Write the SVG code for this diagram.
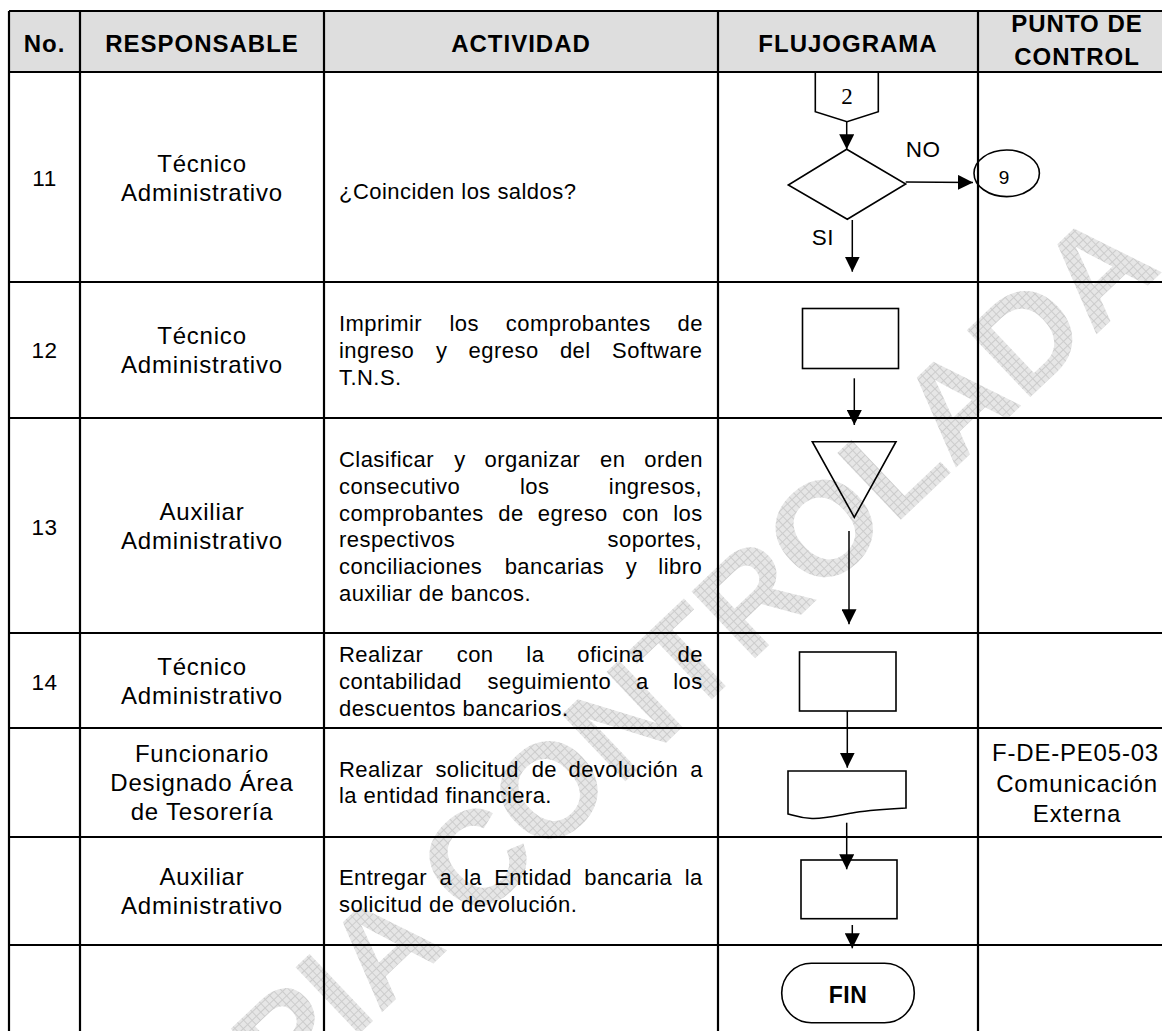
<svg xmlns="http://www.w3.org/2000/svg" width="1162" height="1031" viewBox="0 0 1162 1031">
<defs>
<style>
.grid{stroke:#000;stroke-width:2.2;fill:none}
.shape{fill:none;stroke:#000;stroke-width:1.6}
.conn{stroke:#000;stroke-width:1.5;fill:none;marker-end:url(#arr)}
.h{font-family:"Liberation Sans",Arial,sans-serif;font-weight:bold;font-size:24px;letter-spacing:1px;text-anchor:middle;fill:#000}
.r{font-family:"Liberation Sans",Arial,sans-serif;font-size:24px;letter-spacing:0.8px;text-anchor:middle;fill:#000}
.n{font-family:"Liberation Sans",Arial,sans-serif;font-size:22.5px;letter-spacing:0.5px;text-anchor:middle;fill:#000}
.a{font-family:"Liberation Sans",Arial,sans-serif;font-size:22px;letter-spacing:0.45px;fill:#000}
.lbl{font-family:"Liberation Sans",Arial,sans-serif;font-size:22.5px;letter-spacing:0.6px;fill:#000}
.wm{font-family:"Liberation Sans",Arial,sans-serif;font-weight:bold;font-size:134px;text-anchor:middle;fill:url(#hatch)}
</style>
<pattern id="hatch" width="6" height="6" patternUnits="userSpaceOnUse">
<rect width="6" height="6" fill="#e6e6e6"/>
<path d="M0,0.5H6M0.5,0V6" stroke="#cccccc" stroke-width="1"/>
</pattern>
<marker id="arr" markerUnits="userSpaceOnUse" markerWidth="15" markerHeight="15" refX="15" refY="7.5" orient="auto" viewBox="0 0 15 15">
<path d="M0,0 L15,7.5 L0,15 z" fill="#000"/>
</marker>
</defs>
<rect width="1162" height="1031" fill="#fff"/>
<rect x="9" y="11" width="1165" height="61" fill="#dedede"/>

<g id="watermark" transform="translate(653,755) rotate(-43.5)">
<text class="wm" x="0" y="0">COPIA CONTROLADA</text>
</g>

<g id="table">
<path class="grid" d="M9,11H1175M9,72H1175M9,282H1175M9,418H1175M9,633H1175M9,728H1175M9,837H1175M9,945H1175"/>
<path class="grid" d="M9,11V1040M80,11V1040M324,11V1040M718,11V1040M978,11V1040"/>
</g>

<g id="header">
<text class="h" x="44.5" y="52">No.</text>
<text class="h" x="202" y="52">RESPONSABLE</text>
<text class="h" x="521" y="52">ACTIVIDAD</text>
<text class="h" x="848" y="52">FLUJOGRAMA</text>
<text class="h" x="1077" y="31.7">PUNTO DE</text>
<text class="h" x="1077" y="64.5">CONTROL</text>
</g>

<g id="row11">
<text class="n" x="44.5" y="186">11</text>
<text class="r" x="202" y="172">Técnico</text>
<text class="r" x="202" y="201">Administrativo</text>
<text class="a" x="339" y="199">¿Coinciden los saldos?</text>
</g>

<g id="row12">
<text class="n" x="44.5" y="358">12</text>
<text class="r" x="202" y="344">Técnico</text>
<text class="r" x="202" y="373">Administrativo</text>
<text class="a" y="330.7"><tspan x="339">Imprimir</tspan><tspan x="449.4">los</tspan><tspan x="505.8">comprobantes</tspan><tspan x="677.6">de</tspan></text>
<text class="a" y="357.7"><tspan x="339">ingreso</tspan><tspan x="436">y</tspan><tspan x="468.6">egreso</tspan><tspan x="559.9">del</tspan><tspan x="612.1">Software</tspan></text>
<text class="a" x="339" y="384.7">T.N.S.</text>
</g>

<g id="row13">
<text class="n" x="44.5" y="535">13</text>
<text class="r" x="202" y="520">Auxiliar</text>
<text class="r" x="202" y="549">Administrativo</text>
<text class="a" y="467"><tspan x="339">Clasificar</tspan><tspan x="454.2">y</tspan><tspan x="484.6">organizar</tspan><tspan x="600">en</tspan><tspan x="644.3">orden</tspan></text>
<text class="a" y="494"><tspan x="339">consecutivo</tspan><tspan x="520">los</tspan><tspan x="608.8">ingresos,</tspan></text>
<text class="a" y="520.7"><tspan x="339">comprobantes</tspan><tspan x="498.3">de</tspan><tspan x="537.8">egreso</tspan><tspan x="622.2">con</tspan><tspan x="673.2">los</tspan></text>
<text class="a" y="547.3"><tspan x="339">respectivos</tspan><tspan x="607.6">soportes,</tspan></text>
<text class="a" y="574"><tspan x="339">conciliaciones</tspan><tspan x="504.7">bancarias</tspan><tspan x="625.8">y</tspan><tspan x="658.3">libro</tspan></text>
<text class="a" x="339" y="600.7">auxiliar de bancos.</text>
</g>

<g id="row14">
<text class="n" x="44.5" y="689.5">14</text>
<text class="r" x="202" y="675">Técnico</text>
<text class="r" x="202" y="704">Administrativo</text>
<text class="a" y="661.7"><tspan x="339">Realizar</tspan><tspan x="456.7">con</tspan><tspan x="526.3">la</tspan><tspan x="577.3">oficina</tspan><tspan x="677.6">de</tspan></text>
<text class="a" y="689"><tspan x="339">contabilidad</tspan><tspan x="487.5">seguimiento</tspan><tspan x="636.1">a</tspan><tspan x="673.2">los</tspan></text>
<text class="a" x="339" y="716">descuentos bancarios.</text>
</g>

<g id="row15">
<text class="r" x="202" y="761.5">Funcionario</text>
<text class="r" x="202" y="790.5">Designado Área</text>
<text class="r" x="202" y="820">de Tesorería</text>
<text class="a" y="776.7"><tspan x="339">Realizar</tspan><tspan x="435.4">solicitud</tspan><tspan x="531.7">de</tspan><tspan x="568.5">devolución</tspan><tspan x="690.3">a</tspan></text>
<text class="a" x="339" y="803.3">la entidad financiera.</text>
<text class="r" x="992" y="760.7" style="text-anchor:start">F-DE-PE05-03</text>
<text class="r" x="1077" y="791.7">Comunicación</text>
<text class="r" x="1077" y="821.7">Externa</text>
</g>

<g id="row16">
<text class="r" x="202" y="885">Auxiliar</text>
<text class="r" x="202" y="913.5">Administrativo</text>
<text class="a" y="885"><tspan x="339">Entregar</tspan><tspan x="439.4">a</tspan><tspan x="464">la</tspan><tspan x="494.2">Entidad</tspan><tspan x="584.3">bancaria</tspan><tspan x="684.7">la</tspan></text>
<text class="a" x="339" y="912.3">solicitud de devolución.</text>
</g>

<g id="n-connector2">
<polygon class="shape" points="815.3,72 878.3,72 878.3,111.7 847,121.7 815.3,111.7"/>
<text x="847" y="104" style="font-family:'Liberation Serif','Times New Roman',serif;font-size:23px;text-anchor:middle">2</text>
</g>
<g id="n-decision">
<polygon class="shape" points="846.7,149.3 905.7,184 847.3,219.3 788.3,185"/>
</g>
<g id="n-ref9">
<ellipse class="shape" cx="1006.7" cy="173.3" rx="32.7" ry="23.3"/>
<text x="1004" y="184" style="font-family:'Liberation Sans',Arial,sans-serif;font-size:19px;text-anchor:middle">9</text>
</g>
<g id="n-proc12"><rect class="shape" x="802.5" y="308.5" width="96" height="60"/></g>
<g id="n-merge13"><polygon class="shape" points="812.3,441.7 896,441.7 854.3,517.3"/></g>
<g id="n-proc14"><rect class="shape" x="799.5" y="652" width="96.5" height="59"/></g>
<g id="n-doc15"><path class="shape" d="M788,771 H906 V808 C885,809 870,810 855,812.5 C835,816 825,819 812,818.5 C800,818 795,816 788,814 Z"/></g>
<g id="n-proc16"><rect class="shape" x="801" y="860" width="96" height="58.7"/></g>
<g id="n-fin">
<rect class="shape" x="781.7" y="963.3" width="132.6" height="59.4" rx="29.7"/>
<text x="848" y="1003" style="font-family:'Liberation Sans',Arial,sans-serif;font-weight:bold;font-size:23px;letter-spacing:0.5px;text-anchor:middle">FIN</text>
</g>

<g id="connectors">
<path class="conn" d="M846.7,121.7V149.3"/>
<path class="conn" d="M905.7,182L973,182.5"/>
<path class="conn" d="M852.3,220V271.7"/>
<path class="conn" d="M854.3,378.3V425"/>
<path class="conn" d="M849,531V624.3"/>
<path class="conn" d="M847.3,711V767.7"/>
<path class="conn" d="M846.7,822.7V869.3"/>
<path class="conn" d="M852.3,925V948.3"/>
<text class="lbl" x="905.7" y="157">NO</text>
<text class="lbl" x="811.7" y="245">SI</text>
</g>
</svg>
